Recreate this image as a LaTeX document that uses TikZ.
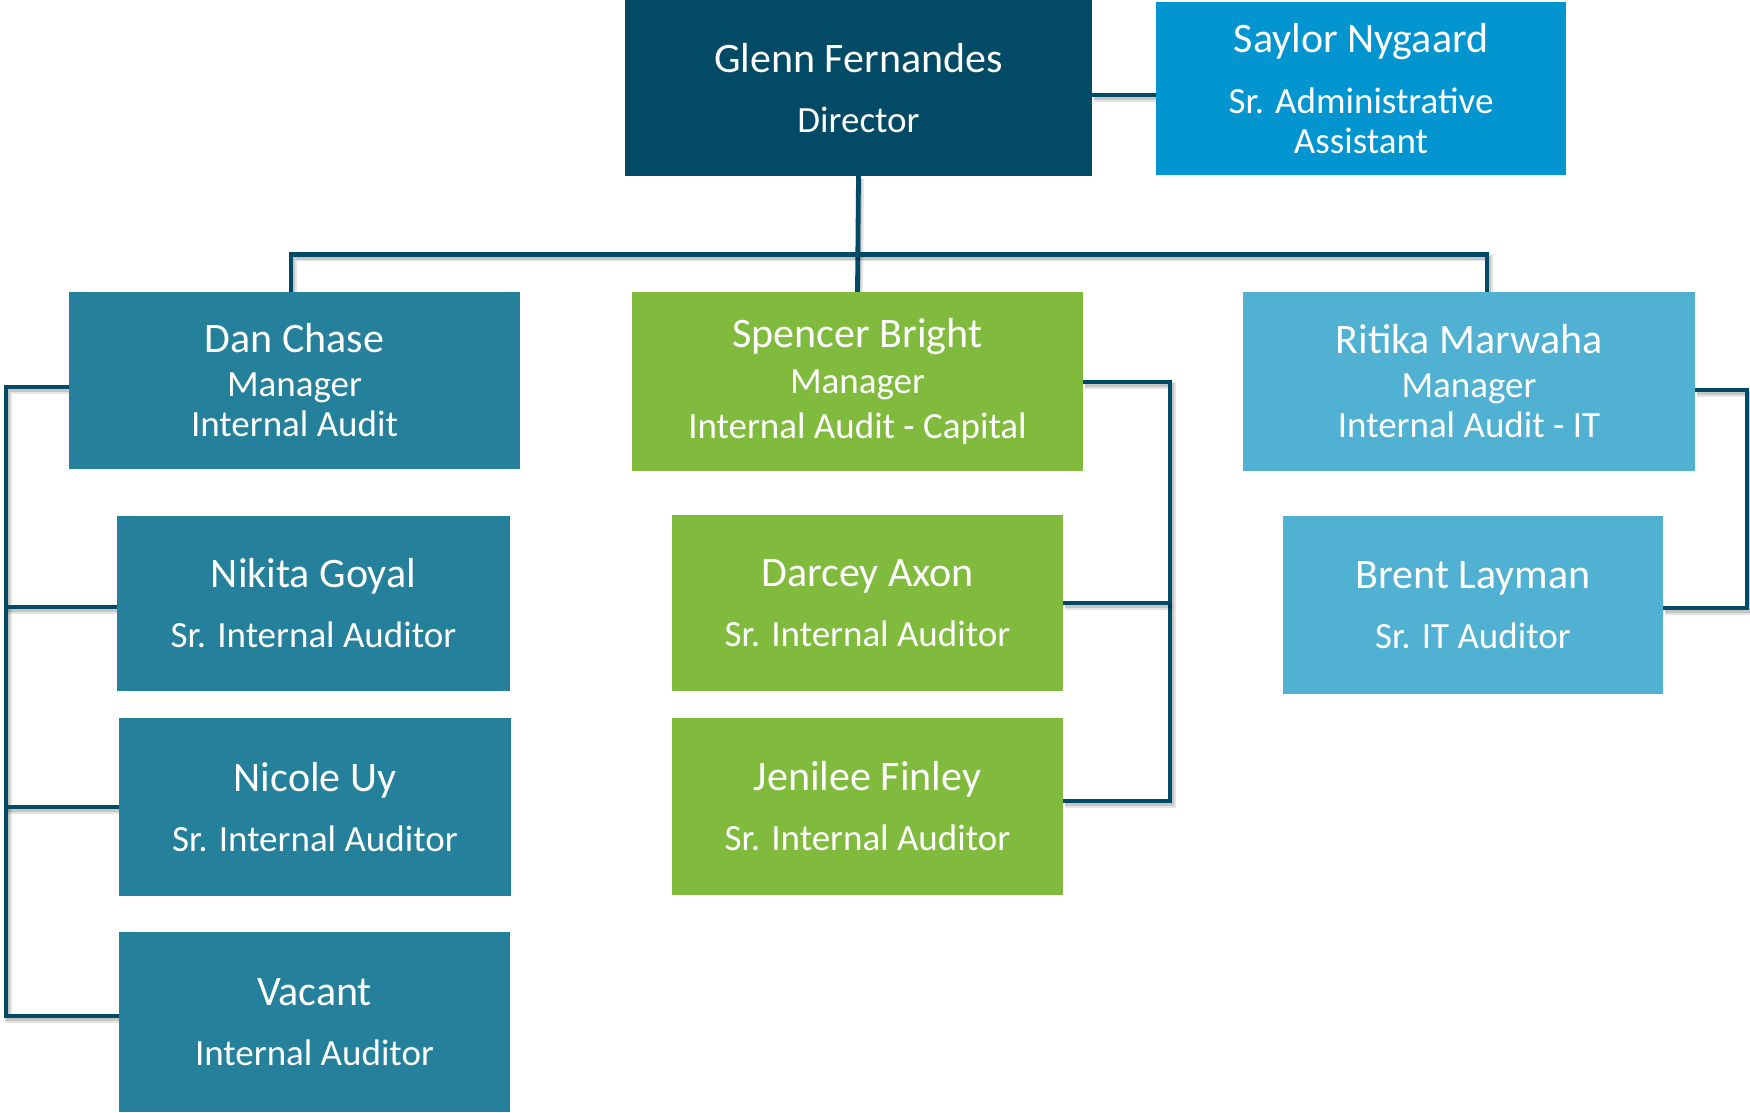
\documentclass[tikz,border=0pt]{standalone}
\usepackage{fontspec}
\setmainfont{Carlito}
\lineskiplimit=-100pt
\definecolor{dirc}{RGB}{2,74,102}
\definecolor{linec}{RGB}{3,74,102}
\definecolor{sayc}{RGB}{3,149,207}
\definecolor{tealc}{RGB}{36,128,155}
\definecolor{greenc}{RGB}{128,187,62}
\definecolor{lbluec}{RGB}{80,177,211}
\newcommand\pname[1]{{\fontsize{42}{40}\selectfont #1}}
\pgfdeclarelayer{background}
\pgfsetlayers{background,main}
\begin{document}
\begin{tikzpicture}[x=1pt,y=-1pt,
  box/.style={rectangle, inner sep=0pt, text=white, align=center,
    font=\fontsize{37}{40}\selectfont},
  conn/.style={line width=4.8pt, draw=linec, line cap=butt, line join=miter,
    preaction={draw=black, opacity=0.10, line width=7pt,
      transform canvas={shift={(2pt,-3pt)}}},
    preaction={draw=black, opacity=0.14, line width=4pt,
      transform canvas={shift={(1.5pt,-3pt)}}}}]
\useasboundingbox (0,0) rectangle (1750,1112);
\path
 node[box, fill=dirc, minimum width=467, minimum height=176] (dir) at (858.5,88)
   {\pname{Glenn Fernandes}\\[20pt]Director}
 node[box, fill=sayc, minimum width=410, minimum height=173] (saylor) at (1361,88.5)
   {\pname{Saylor Nygaard}\\[21pt]Sr. Administrative\\Assistant}
 node[box, fill=tealc, minimum width=451, minimum height=177] (dan) at (294.5,380.5)
   {\pname{Dan Chase}\\[4pt]Manager\\Internal Audit}
 node[box, fill=greenc, minimum width=451, minimum height=179] (spencer) at (857.5,381.5)
   {\pname{Spencer Bright}\\[6pt]Manager\\[5pt]Internal Audit - Capital}
 node[box, fill=lbluec, minimum width=452, minimum height=179] (ritika) at (1469,381.5)
   {\pname{Ritika Marwaha}\\[4pt]Manager\\Internal Audit - IT}
 node[box, fill=tealc, minimum width=393, minimum height=175] (nikita) at (313.5,603.5)
   {\pname{Nikita Goyal}\\[20pt]Sr. Internal Auditor}
 node[box, fill=tealc, minimum width=392, minimum height=178] (nicole) at (315,807)
   {\pname{Nicole Uy}\\[20pt]Sr. Internal Auditor}
 node[box, fill=tealc, minimum width=391, minimum height=180] (vacant) at (314.5,1022)
   {\pname{Vacant}\\[20pt]Internal Auditor}
 node[box, fill=greenc, minimum width=391, minimum height=176] (darcey) at (867.5,603)
   {\pname{Darcey Axon}\\[20pt]Sr. Internal Auditor}
 node[box, fill=greenc, minimum width=391, minimum height=177] (jenilee) at (867.5,806.5)
   {\pname{Jenilee Finley}\\[20pt]Sr. Internal Auditor}
 node[box, fill=lbluec, minimum width=380, minimum height=178] (brent) at (1473,605)
   {\pname{Brent Layman}\\[20pt]Sr. IT Auditor};
\coordinate (busL) at (291,254.5);
\coordinate (busR) at (1487,254.5);
\coordinate (lb) at (6,387);
\coordinate (sb) at (1170,382);
\coordinate (rb) at (1747,390);
\begin{pgfonlayer}{background}
\draw[conn] (dir.east |- 0,95) -- (saylor.west |- 0,95);
\draw[conn] (dir.south) -- (spencer.north);
\draw[conn] (busL |- dan.north) -- (busL) -- (busR) -- (busR |- ritika.north);
\draw[conn] (dan.west |- lb) -- (lb) -- (lb |- 0,1016) -- (vacant.west |- 0,1016);
\draw[conn] (lb |- 0,607) -- (nikita.west |- 0,607);
\draw[conn] (lb |- 0,807) -- (nicole.west |- 0,807);
\draw[conn] (spencer.east |- sb) -- (sb) -- (sb |- 0,801) -- (jenilee.east |- 0,801);
\draw[conn] (sb |- 0,603) -- (darcey.east |- 0,603);
\draw[conn] (ritika.east |- rb) -- (rb) -- (rb |- 0,608) -- (brent.east |- 0,608);
\end{pgfonlayer}
\end{tikzpicture}
\end{document}
